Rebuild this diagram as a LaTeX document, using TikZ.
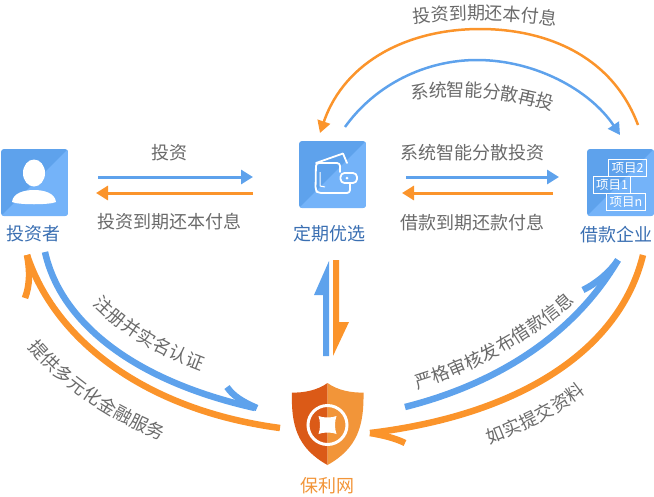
\documentclass[tikz,border=0pt]{standalone}
\usepackage{fontspec}
\setmainfont{Noto Sans CJK SC}
\usetikzlibrary{arrows.meta,decorations.text}
\definecolor{cblue}{HTML}{5EA2EC}
\definecolor{clight}{HTML}{74B3F9}
\definecolor{corange}{HTML}{FB942B}
\definecolor{cgray}{HTML}{6A6A6A}
\definecolor{clabel}{HTML}{3A6FB2}
\definecolor{sdark}{HTML}{DB5A17}
\definecolor{slight}{HTML}{F29539}
\newcommand{\captfont}{\fontsize{18}{18}\selectfont\color{cgray}}
\tikzset{
  x=1pt,y=-1pt,
  thinarrow/.style={line width=3pt,-{Triangle[length=12pt,width=14pt]}},
  arcarrow/.style={line width=2.5pt,-{Triangle[length=12pt,width=13pt]}},
  hookline/.style={line width=6.5pt,line cap=butt,line join=miter},
  captxt/.style={text=cgray,font=\fontsize{18}{18}\selectfont,inner sep=0pt},
  nametxt/.style={text=clabel,font=\fontsize{18}{18}\selectfont,inner sep=0pt},
  iconbox/.style={minimum size=67pt,inner sep=0pt,draw=none},
  whiteline/.style={draw=white,line width=1.8pt,line join=round,line cap=round},
  boxlabel/.style={draw=white,line width=1pt,text=white,font=\fontsize{12.5}{12.5}\selectfont,inner sep=0pt,minimum height=17pt},
  curvedtext/.style={decorate,decoration={text along path,text align=center,raise=-6.5pt,text={|\captfont|#1}}},
}
\newcommand{\iconbg}[2]{%
  \begin{scope}
    \clip[rounded corners=3pt] (#1,#2) rectangle ++(67,67);
    \fill[cblue] (#1,#2) rectangle ++(67,67);
    \fill[clight] ({#1+67},#2) -- ({#1+67},{#2+67}) -- (#1,{#2+67}) -- cycle;
  \end{scope}}
\begin{document}
\begin{tikzpicture}
\useasboundingbox (0,0) rectangle (654,496);
% icon anchors
\iconbg{1}{149}
\iconbg{299}{141}
\iconbg{587}{149}
\node[iconbox] (investor) at (34.5,182.5) {};
\node[iconbox] (wallet) at (332.5,174.5) {};
\node[iconbox] (company) at (620.5,182.5) {};
\coordinate (shield) at (327.5,425);
% person
\fill[white] (34,173) ellipse (11 and 13.5);
\fill[white] (12,202) .. controls (13,193) and (24,190) .. (34,190) .. controls (44,190) and (55,193) .. (56,202) .. controls (50,205) and (18,205) .. (12,202) -- cycle;
% wallet
\draw[whiteline,rounded corners=3pt] (340,172) -- (340,163) -- (316,163) -- (315.5,190) -- (318,193) -- (350,193) -- (350,183);
\draw[whiteline] (316,163) -- (343,153.5) -- (347,163);
\draw[whiteline,rounded corners=4pt,fill=clight] (340.5,173) rectangle (357,183);
\fill[white] (347,178) circle (1.5);
\draw[draw=white,line width=1pt] (320,172) -- (320,186) -- (325,187);
% project boxes
\node[boxlabel,minimum width=38pt,anchor=north west] (p2) at (608,159) {项目2};
\node[boxlabel,minimum width=37pt,anchor=north west] (p1) at (593,176) {项目1};
\node[boxlabel,minimum width=39pt,anchor=north west] (pn) at (606,193) {项目n};
% shield
\fill[sdark] (327.5,383) .. controls (318,390) and (304,393) .. (292,392.5) .. controls (291,425) and (297,448) .. (327.5,465) -- cycle;
\fill[slight] (327.5,383) .. controls (337,390) and (351,393) .. (363.5,392.5) .. controls (364,425) and (358,448) .. (327.5,465) -- cycle;
\draw[white,line width=3pt] (shield) circle (19.5);
\fill[white] (318.5,416) .. controls (323,418) and (332,418) .. (336.5,416) .. controls (334.5,421) and (334.5,429) .. (336.5,434) .. controls (332,432) and (323,432) .. (318.5,434) .. controls (320.5,429) and (320.5,421) .. (318.5,416) -- cycle;
% names
\node[nametxt] (n1) at (33,234) {投资者};
\node[nametxt] (n2) at (329,234) {定期优选};
\node[nametxt] (n3) at (616,235) {借款企业};
\node[nametxt,text=slight] (n4) at (327,486) {保利网};
% horizontal arrows
\coordinate (a1) at (98,177); \coordinate (a2) at (253,177);
\coordinate (b1) at (253,193); \coordinate (b2) at (96,193);
\coordinate (c1) at (406,177); \coordinate (c2) at (559,177);
\coordinate (d1) at (553,193); \coordinate (d2) at (402,193);
\draw[thinarrow,cblue] (a1) -- (a2);
\draw[thinarrow,corange] (b1) -- (b2);
\draw[thinarrow,cblue] (c1) -- (c2);
\draw[thinarrow,corange] (d1) -- (d2);
\node[captxt] (t1) at (169,153) {投资};
\node[captxt] (t2) at (169,222) {投资到期还本付息};
\node[captxt] (t3) at (472,153) {系统智能分散投资};
\node[captxt] (t4) at (472,223) {借款到期还款付息};
% top arcs
\draw[arcarrow,corange] (638,125) .. controls (612,55) and (545,29) .. (480,29) .. controls (410,29) and (345,60) .. (320,133);
\draw[arcarrow,cblue] (345,127) .. controls (375,85) and (425,60) .. (477,60) .. controls (535,60) and (590,90) .. (620,135);
\path[curvedtext={投资到期还本付息}] (405,18) .. controls (450,11) and (510,11) .. (565,21);
\path[curvedtext={系统智能分散再投}] (402,94) .. controls (445,87) and (510,88) .. (562,108);
% vertical arrows
\fill[cblue] (323,356) -- (329,356) -- (329,261) -- (314,295) -- (323,295) -- cycle;
\fill[corange] (333,260) -- (339,260) -- (339,322) -- (349,322) -- (333,356) -- cycle;
% left curves
\draw[hookline,cblue] (45,252) .. controls (60,320) and (130,380) .. (255,408);
\draw[hookline,cblue] (227,387) .. controls (233,396) and (243,402) .. (257,408);
\draw[hookline,corange] (280,428) .. controls (145,410) and (55,340) .. (27,255);
\draw[hookline,corange] (25,298) .. controls (30,285) and (30,270) .. (27,255);
% right curves
\draw[hookline,cblue] (405,407) .. controls (500,383) and (575,333) .. (618,260);
\draw[hookline,cblue] (583,290) .. controls (597,283) and (610,272) .. (618,260);
\draw[hookline,corange] (643,255) .. controls (620,350) and (520,415) .. (370,433);
\draw[hookline,corange] (405,443) .. controls (395,438) and (382,435) .. (370,433);
% curved diagonal captions
\path[curvedtext={注册并实名认证}] (92,295) .. controls (120,325) and (160,350) .. (210,367);
\path[curvedtext={提供多元化金融服务}] (27,336) .. controls (60,378) and (110,415) .. (172,437);
\path[curvedtext={严格审核发布借款信息}] (406,386) .. controls (470,368) and (530,335) .. (578,290);
\path[curvedtext={如实提交资料}] (480,441) .. controls (515,428) and (560,408) .. (588,382);
\end{tikzpicture}
\end{document}
